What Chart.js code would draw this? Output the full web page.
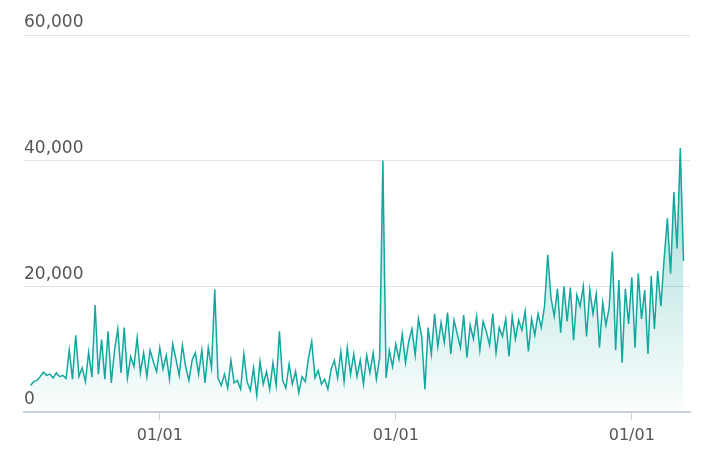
<!DOCTYPE html>
<html><head><meta charset="utf-8">
<script src="https://cdn.jsdelivr.net/npm/chart.js@4"></script>
<style>body{margin:0;background:#fff}#wrap{width:716px;height:462px}</style>
</head><body><div id="wrap"><canvas id="c"></canvas></div>
<script>
// one value every 5 days, starting mid-June
const stepDays = 5;
const values = [
  4200,4800,5000,5600,6300,5800,6000,5400,6200,5600,5800,5300,
  9800,5200,12200,5600,7000,4800,9500,5500,17000,6000,
  11500,5200,12800,4600,9800,13200,6200,13400,5400,8800,7200,11800,6200,9400,5600,9800,8000,6400,10200,
  6800,9000,5200,10800,8400,5800,10600,7200,5000,8200,9400,6000,9800,4600,10200,7000,
  19500,
  5400,4200,6000,3800,8200,4600,5000,3600,9200,4800,3400,7000,2600,8000,4400,6400,3600,7800,4200,12800,5000,3800,7600,4400,6400,3000,5600,
  4800,8600,11200,5400,6600,4400,5200,3600,6800,8200,5400,9600,4800,10200,6000,9200,5600,8200,4400,9000,6200,9400,5200,8600,
  40000,
  5400,9800,7200,10800,8400,12400,7800,11200,13200,9000,14800,12000,3600,13400,9200,15600,10400,14200,
  11000,15800,9200,14600,12400,10200,15400,8600,13800,11600,15200,9800,14400,12800,10600,15600,9400,13400,12000,14800,8800,15200,11600,14600,13000,16000,9600,14800,12200,15600,13400,16800,
  25000,18200,
  15200,19600,12600,20000,14400,19800,11400,18600,16800,20000,12000,19400,15600,18800,10200,17400,13800,16600,
  25500,9800,21000,7800,19600,14000,
  21400,10200,22000,14800,19400,9200,21600,13200,22400,16800,24400,30800,22000,35000,26000,42000,24000
];
const yearStarts = [200, 565, 930];
const yearLabel = "01/01";
const yTicks = [0, 20000, 40000, 60000];

const points = values.map((v, i) => ({ x: i * stepDays, y: v }));

new Chart(document.getElementById("c"), {
  type: "line",
  data: {
    datasets: [{
      data: points,
      borderColor: "#12a89d",
      borderWidth: 1.5,
      pointRadius: 0,
      tension: 0,
      fill: "origin",
      backgroundColor: (ctx) => {
        const area = ctx.chart.chartArea;
        if (!area) return "rgba(18,168,157,0.2)";
        const g = ctx.chart.ctx.createLinearGradient(0, area.top + 120, 0, area.bottom);
        g.addColorStop(0, "rgba(18,168,157,0.4)");
        g.addColorStop(1, "rgba(18,168,157,0.02)");
        return g;
      }
    }]
  },
  options: {
    responsive: true,
    maintainAspectRatio: false,
    animation: false,
    layout: { padding: { left: 24, right: 26, top: 35, bottom: 11 } },
    plugins: { legend: { display: false }, tooltip: { enabled: false } },
    scales: {
      x: {
        type: "linear",
        min: -10,
        max: 1020,
        afterBuildTicks: (axis) => { axis.ticks = yearStarts.map(v => ({ value: v })); },
        ticks: { callback: () => yearLabel, color: "#555", font: { family: "DejaVu Sans", size: 16 }, padding: 6, maxRotation: 0 },
        grid: { drawOnChartArea: false, tickLength: 8, color: "#c8cfe0" },
        border: { color: "#c8cfe0", width: 2 }
      },
      y: {
        min: 0,
        max: 60000,
        afterBuildTicks: (axis) => { axis.ticks = yTicks.map(v => ({ value: v })); },
        ticks: { mirror: true, labelOffset: -12, padding: 0, color: "#555", font: { family: "DejaVu Sans", size: 17 },
          callback: (v) => v.toLocaleString("en-US") },
        grid: { color: "#e2e2ea", drawTicks: false },
        border: { display: false }
      }
    }
  }
});
</script></body></html>
